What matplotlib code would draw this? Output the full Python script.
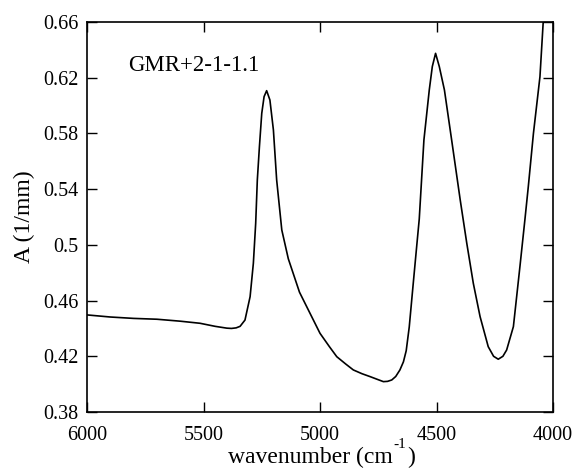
import numpy as np
import matplotlib
matplotlib.use('Agg')
import matplotlib.pyplot as plt

# absorption spectrum: wavenumber (cm-1) and absorbance (1/mm)
wn = [6000, 5900, 5800, 5700, 5600, 5515, 5450, 5400, 5380, 5360, 5343, 5322,
      5300, 5286, 5276, 5269, 5260, 5250, 5240, 5229, 5215, 5200, 5186, 5164,
      5136, 5100, 5088, 5057, 5000, 4960, 4928, 4890, 4857, 4820, 4785, 4755,
      4728, 4710, 4692, 4675, 4657, 4642, 4630, 4617, 4600, 4585, 4574, 4554,
      4531, 4518, 4504, 4488, 4466, 4435, 4398, 4370, 4342, 4313, 4278, 4255,
      4235, 4215, 4199, 4170, 4142, 4120, 4106, 4084, 4056, 4042, 4030, 4000]
absorb = [0.4497, 0.4482, 0.4472, 0.4466, 0.4452, 0.4437, 0.4415, 0.4402, 0.4400, 0.4404, 0.4415, 0.4460,
          0.4628, 0.4868, 0.5155, 0.5466, 0.5705, 0.5944, 0.6064, 0.6107, 0.6040, 0.5825, 0.5466, 0.5107,
          0.4900, 0.4720, 0.4660, 0.4556, 0.4365, 0.4270, 0.4197, 0.4145, 0.4102, 0.4075, 0.4054, 0.4035,
          0.4018, 0.4020, 0.4030, 0.4055, 0.4102, 0.4160, 0.4240, 0.4410, 0.4720, 0.4990, 0.5186, 0.5753,
          0.6112, 0.6280, 0.6375, 0.6280, 0.6112, 0.5753, 0.5320, 0.5011, 0.4724, 0.4485, 0.4269, 0.4200,
          0.4179, 0.4200, 0.4245, 0.4413, 0.4843, 0.5190, 0.5418, 0.5800, 0.6207, 0.6600, 0.6900, 0.7300]

xticks = [6000, 5500, 5000, 4500, 4000]
yticks = [0.38, 0.42, 0.46, 0.5, 0.54, 0.58, 0.62, 0.66]
ytick_labels = ['0.38', '0.42', '0.46', '0.5', '0.54', '0.58', '0.62', '0.66']

plt.rcParams['font.family'] = ['Liberation Serif', 'DejaVu Serif']

W, H = 574, 469
fig = plt.figure(figsize=(W/100, H/100), dpi=100)
ax = fig.add_axes([87/W, 1 - 412/H, 466/W, 390/H])

ax.plot(wn, absorb, color='black', lw=1.2)

ax.set_xlim(6000, 4000)
ax.set_ylim(0.38, 0.66)
ax.set_xticks(xticks)
ax.set_yticks(yticks)
ax.set_yticklabels(ytick_labels)
ax.tick_params(direction='in', length=7, width=1, labelsize=14.5,
               top=True, right=True)
ax.tick_params(axis='x', pad=10)
ax.tick_params(axis='y', pad=6)
for s in ax.spines.values():
    s.set_linewidth(1.2)

ax.set_ylabel('A (1/mm)', fontsize=17, labelpad=6)
ax.text(5824, 0.6248, 'GMR+2-1-1.1', fontsize=16.5, va='baseline', ha='left')

# x label built from pieces so the superscript sits high like in Word
r = fig.canvas.get_renderer()
base_y = 1 - 463/H
t1 = fig.text(228/W, base_y, 'wavenumber (cm', fontsize=17, va='baseline', ha='left')
bb = t1.get_window_extent(r)
t2 = fig.text(bb.x1/W + 1/W, 1 - 448/H, '-1', fontsize=11, va='baseline', ha='left')
bb2 = t2.get_window_extent(r)
fig.text(bb2.x1/W + 1/W, base_y, ')', fontsize=17, va='baseline', ha='left')

fig.savefig('out.png', dpi=100)
